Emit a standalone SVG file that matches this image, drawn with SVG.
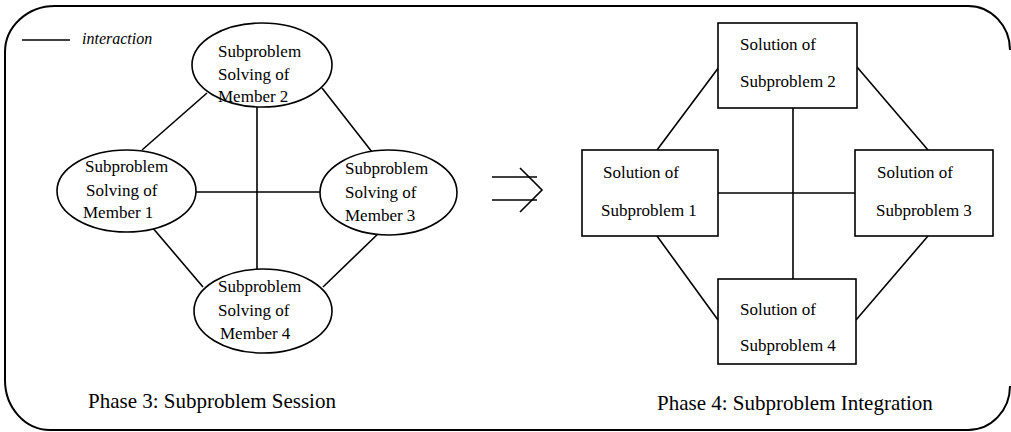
<svg xmlns="http://www.w3.org/2000/svg" width="1011" height="432" viewBox="0 0 1011 432">
  <style>
    .frame { fill: none; stroke: #000; stroke-width: 2; }
    .shape { fill: #fff; stroke: #000; stroke-width: 1.6; }
    .link { stroke: #000; stroke-width: 1.6; fill: none; }
    text { font-family: "Liberation Serif", "DejaVu Serif", serif; fill: #000; }
    .label { font-size: 17px; }
    .caption { font-size: 21px; }
    .legend { font-size: 16px; font-style: italic; }
  </style>

  <!-- rounded outer frame -->
  <path class="frame" d="M 55 6 H 968 A 42 44 0 0 1 1010 50 M 1010 386 A 42 44 0 0 1 968 430 H 50 A 45 50 0 0 1 5 380 V 52 A 50 46 0 0 1 55 6"/>

  <!-- legend -->
  <g id="legend">
    <line class="link" x1="22" y1="40" x2="70" y2="40"/>
    <text class="legend" x="82" y="44">interaction</text>
  </g>

  <!-- connectors -->
  <g id="connectors">
    <!-- phase 3 -->
    <line class="link" x1="207" y1="93" x2="142" y2="150"/>
    <line class="link" x1="322" y1="88" x2="372" y2="152"/>
    <line class="link" x1="257" y1="107" x2="257" y2="269"/>
    <line class="link" x1="196" y1="192" x2="320" y2="192"/>
    <line class="link" x1="152" y1="227" x2="203" y2="287"/>
    <line class="link" x1="382" y1="230" x2="323" y2="287"/>
    <!-- transition arrow -->
    <line class="link" x1="492" y1="177" x2="537" y2="177"/>
    <line class="link" x1="492" y1="200" x2="537" y2="200"/>
    <polyline class="link" points="520,168 542,190 520,212"/>
    <!-- phase 4 -->
    <line class="link" x1="719" y1="67" x2="657" y2="150"/>
    <line class="link" x1="857" y1="67" x2="928" y2="150"/>
    <line class="link" x1="793" y1="108" x2="793" y2="279"/>
    <line class="link" x1="718" y1="193" x2="855" y2="193"/>
    <line class="link" x1="657" y1="236" x2="718" y2="320"/>
    <line class="link" x1="928" y1="236" x2="856" y2="320"/>
  </g>

  <!-- phase 3 nodes -->
  <g id="member2">
    <ellipse class="shape" cx="262" cy="65" rx="70" ry="42"/>
    <text class="label" x="218" y="57">Subproblem</text>
    <text class="label" x="218" y="80">Solving of</text>
    <text class="label" x="218" y="102">Member 2</text>
  </g>
  <g id="member1">
    <ellipse class="shape" cx="126.5" cy="191" rx="69.5" ry="41"/>
    <text class="label" x="85" y="172">Subproblem</text>
    <text class="label" x="86" y="196">Solving of</text>
    <text class="label" x="83" y="218">Member 1</text>
  </g>
  <g id="member3">
    <ellipse class="shape" cx="388.5" cy="192.5" rx="68.5" ry="42.5"/>
    <text class="label" x="345" y="174">Subproblem</text>
    <text class="label" x="345" y="198">Solving of</text>
    <text class="label" x="345" y="221">Member 3</text>
  </g>
  <g id="member4">
    <ellipse class="shape" cx="263" cy="311" rx="69" ry="42"/>
    <text class="label" x="218" y="292">Subproblem</text>
    <text class="label" x="218" y="316">Solving of</text>
    <text class="label" x="220" y="339">Member 4</text>
  </g>

  <!-- phase 4 nodes -->
  <g id="solution2">
    <rect class="shape" x="718" y="23" width="139" height="85"/>
    <text class="label" x="740" y="50">Solution of</text>
    <text class="label" x="740" y="87">Subproblem 2</text>
  </g>
  <g id="solution1">
    <rect class="shape" x="582" y="150" width="136" height="86"/>
    <text class="label" x="603" y="178">Solution of</text>
    <text class="label" x="601" y="216">Subproblem 1</text>
  </g>
  <g id="solution3">
    <rect class="shape" x="855" y="150" width="138" height="86"/>
    <text class="label" x="877" y="178">Solution of</text>
    <text class="label" x="876" y="216">Subproblem 3</text>
  </g>
  <g id="solution4">
    <rect class="shape" x="718" y="279" width="138" height="85"/>
    <text class="label" x="740" y="315">Solution of</text>
    <text class="label" x="740" y="351">Subproblem 4</text>
  </g>

  <!-- phase captions -->
  <text class="caption" x="88" y="408">Phase 3: Subproblem Session</text>
  <text class="caption" x="657" y="410">Phase 4: Subproblem Integration</text>
</svg>
